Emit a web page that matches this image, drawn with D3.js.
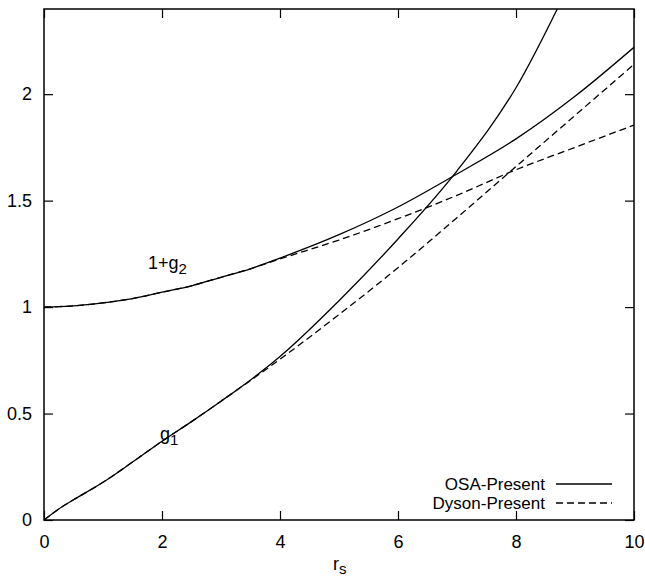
<!DOCTYPE html>
<html>
<head>
<meta charset="utf-8">
<script src="https://cdn.jsdelivr.net/npm/d3@7"></script>
<style>
  body { margin: 0; background: #fff; }
  svg text { font-family: "Liberation Sans", Arial, sans-serif; font-size: 18px; fill: #000; }
</style>
</head>
<body>
<svg></svg>
<script>
// DATA
let rs = [0, 0.25, 0.5, 1, 1.5, 2, 2.5, 3, 3.5, 4, 5, 6, 7, 8, 9, 10]

let osaG2 = [1.0, 1.002, 1.006, 1.02, 1.04, 1.07, 1.10, 1.14, 1.18, 1.23, 1.34, 1.47, 1.625, 1.79, 1.99, 2.22]
let osaG1 = [0, 0.052, 0.095, 0.177, 0.272, 0.37, 0.462, 0.558, 0.658, 0.768, 1.03, 1.32, 1.64, 2.03, 2.57, 3.15]

let dysonRs = [0, 0.25, 0.5, 1, 1.5, 2, 2.5, 3, 3.5, 4, 5, 6, 7, 8, 9, 10]
let dysonG2 = [1.0, 1.002, 1.006, 1.02, 1.04, 1.07, 1.10, 1.14, 1.18, 1.226, 1.315, 1.415, 1.525, 1.645, 1.75, 1.855]
let dysonG1 = [0, 0.052, 0.095, 0.177, 0.272, 0.37, 0.462, 0.558, 0.655, 0.755, 0.965, 1.185, 1.42, 1.66, 1.90, 2.14]

let xTicks = [0, 2, 4, 6, 8, 10]
let yTicks = [0, 0.5, 1, 1.5, 2]

let svgWidth = 645
let svgHeight = 578
let plotL = 44, plotR = 634, plotT = 9, plotB = 520

let svg = d3.select("svg")
  .attr("width", svgWidth)
  .attr("height", svgHeight)

// SCALES
let xScale = d3.scaleLinear().domain([0, 10]).range([plotL, plotR])
let yScale = d3.scaleLinear().domain([0, 2.4]).range([plotB, plotT])

// CLIP
svg.append("clipPath").attr("id", "plot")
  .append("rect")
  .attr("x", plotL).attr("y", plotT)
  .attr("width", plotR - plotL).attr("height", plotB - plotT)

// AXES (ticks inside, mirrored)
svg.append("g")
  .attr("transform", `translate(0, ${plotB})`)
  .call(d3.axisBottom(xScale).tickValues(xTicks).tickSize(-9).tickPadding(15).tickFormat(d3.format("d")))
svg.append("g")
  .attr("transform", `translate(0, ${plotT})`)
  .call(d3.axisTop(xScale).tickValues(xTicks).tickSize(-9).tickFormat(""))
svg.append("g")
  .attr("transform", `translate(${plotL}, 0)`)
  .call(d3.axisLeft(yScale).tickValues(yTicks).tickSize(-9).tickPadding(12).tickFormat(d3.format("")))
svg.append("g")
  .attr("transform", `translate(${plotR}, 0)`)
  .call(d3.axisRight(yScale).tickValues(yTicks).tickSize(-9).tickFormat(""))

svg.selectAll(".domain").remove()
svg.selectAll(".tick line").attr("stroke", "#000").attr("stroke-width", 1.2)
svg.selectAll(".tick text").style("font-size", "18px").attr("fill", "#000")

// BORDER
svg.append("rect")
  .attr("x", plotL).attr("y", plotT)
  .attr("width", plotR - plotL).attr("height", plotB - plotT)
  .attr("fill", "none").attr("stroke", "#000").attr("stroke-width", 1.5)

// CURVES
let series = [
  { x: rs, y: osaG2, dash: null },
  { x: rs, y: osaG1, dash: null },
  { x: dysonRs, y: dysonG2, dash: "7,4" },
  { x: dysonRs, y: dysonG1, dash: "7,4" }
]

let line = d3.line()
  .x(d => xScale(d[0]))
  .y(d => yScale(d[1]))
  .curve(d3.curveMonotoneX)

let curves = svg.append("g").attr("clip-path", "url(#plot)")
series.forEach(s => {
  curves.append("path")
    .datum(s.x.map((v, i) => [v, s.y[i]]))
    .attr("d", line)
    .attr("fill", "none")
    .attr("stroke", "#000")
    .attr("stroke-width", 1.3)
    .attr("stroke-dasharray", s.dash)
})

// CURVE LABELS
let lab1 = svg.append("text").attr("x", 148).attr("y", 269)
lab1.append("tspan").text("1+g")
lab1.append("tspan").attr("dy", 5).style("font-size", "15px").text("2")

let lab2 = svg.append("text").attr("x", 160).attr("y", 440)
lab2.append("tspan").text("g")
lab2.append("tspan").attr("dy", 5).style("font-size", "15px").text("1")

// AXIS TITLE
let xt = svg.append("text").attr("x", 333).attr("y", 570)
xt.append("tspan").text("r")
xt.append("tspan").attr("dy", 4).style("font-size", "15px").text("s")

// LEGEND
let legend = [
  { name: "OSA-Present", dash: null, y: 484 },
  { name: "Dyson-Present", dash: "7,4", y: 503 }
]
legend.forEach(l => {
  svg.append("text")
    .attr("x", 545).attr("y", l.y + 6)
    .attr("text-anchor", "end")
    .style("font-size", "17px")
    .text(l.name)
  svg.append("line")
    .attr("x1", 556).attr("x2", 612)
    .attr("y1", l.y).attr("y2", l.y)
    .attr("stroke", "#000").attr("stroke-width", 1.3)
    .attr("stroke-dasharray", l.dash)
})
</script>
</body>
</html>
